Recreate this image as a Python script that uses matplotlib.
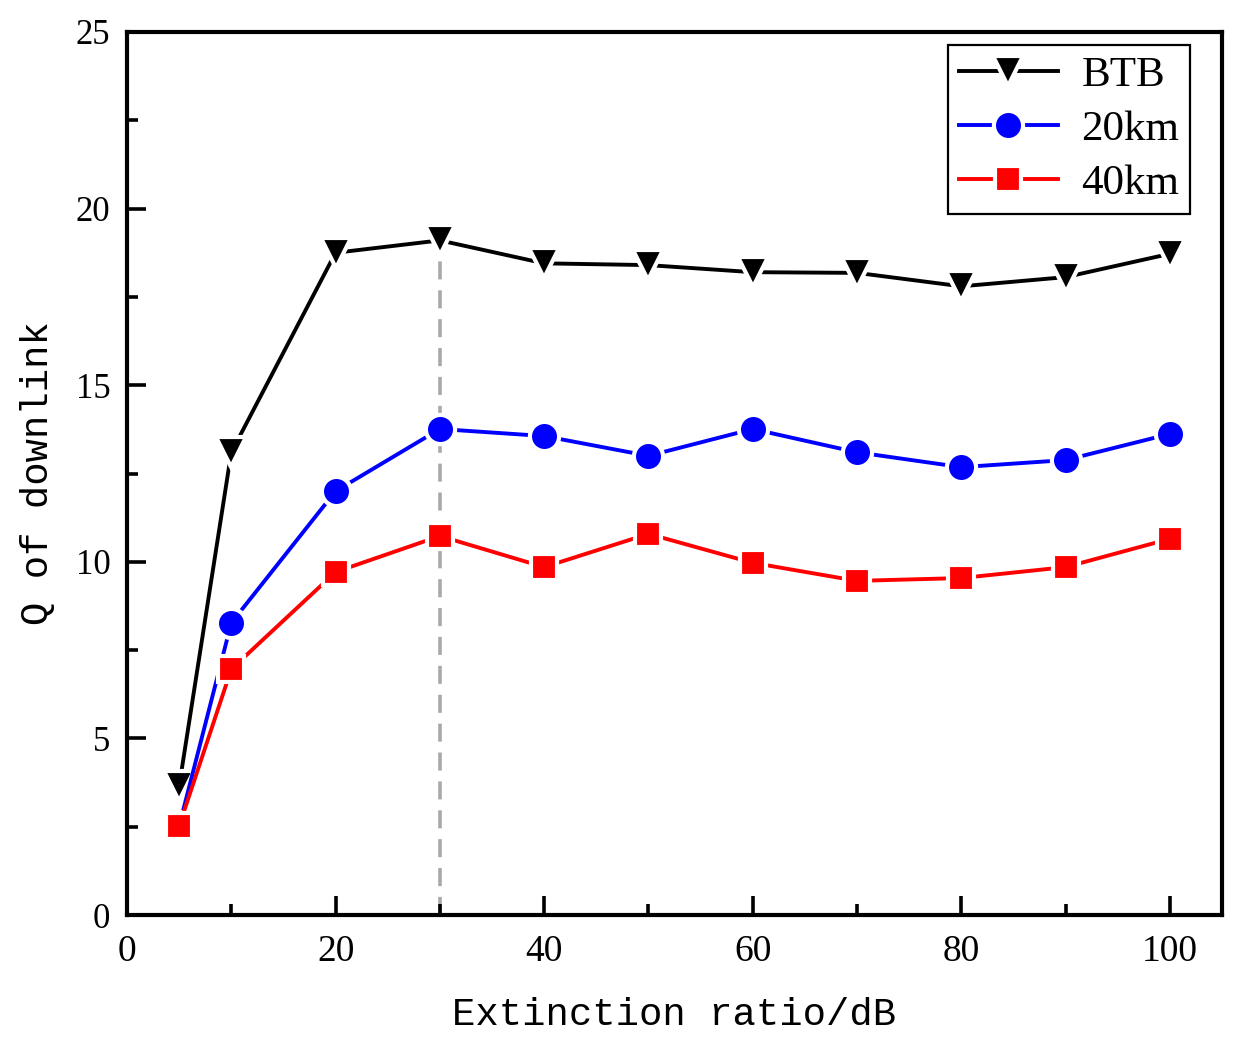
import matplotlib
matplotlib.use("Agg")
import matplotlib.pyplot as plt
from matplotlib.ticker import MultipleLocator

ratio = [5, 10, 20, 30, 40, 50, 60, 70, 80, 90, 100]
q_btb = [3.65, 13.1, 18.75, 19.1, 18.45, 18.4, 18.2, 18.18, 17.8, 18.06, 18.72]
q_20km = [2.52, 8.27, 12.0, 13.76, 13.56, 13.0, 13.76, 13.1, 12.68, 12.88, 13.62]
q_40km = [2.52, 6.96, 9.71, 10.73, 9.85, 10.79, 9.97, 9.46, 9.54, 9.85, 10.65]
best_ratio = 30

matplotlib.rcParams['font.family'] = 'Liberation Serif'

fig = plt.figure(figsize=(12.51, 10.49), dpi=100)
ax = fig.add_axes([127 / 1251, 1 - 915 / 1049, 1095 / 1251, 883 / 1049])

ax.plot([best_ratio, best_ratio], [0, q_btb[ratio.index(best_ratio)]],
        color='#a9a9a9', lw=2.6, ls=(0, (5, 3)), zorder=1)

style = dict(lw=2.8, markeredgecolor='white', markeredgewidth=3)
ax.plot(ratio, q_btb, color='black', marker='v', ms=22, label='BTB', **style)
ax.plot(ratio, q_20km, color='#0000ff', marker='o', ms=21, label='20km', **style)
ax.plot(ratio, q_40km, color='#ff0000', marker='s', ms=19, label='40km', **style)

ax.set_xlim(0, 105)
ax.set_ylim(0, 25)
ax.xaxis.set_major_locator(MultipleLocator(20))
ax.xaxis.set_minor_locator(MultipleLocator(10))
ax.yaxis.set_major_locator(MultipleLocator(5))
ax.yaxis.set_minor_locator(MultipleLocator(2.5))
ax.tick_params(which='both', direction='in', width=2.6, top=False, right=False)
ax.tick_params(which='major', length=14, pad=12)
ax.tick_params(which='minor', length=8)
ax.tick_params(axis='x', labelsize=27, pad=14)
ax.tick_params(axis='y', labelsize=25, pad=12)
for s in ax.spines.values():
    s.set_linewidth(3)

ax.set_xlabel('Extinction ratio/dB', family='Liberation Mono', fontsize=28, labelpad=20)
ax.set_ylabel('Q of downlink', family='Liberation Mono', fontsize=28, labelpad=14)

leg = ax.legend(loc='upper right', fontsize=31, frameon=True, fancybox=False,
                edgecolor='black', framealpha=1, handlelength=2.3, borderpad=0.25,
                labelspacing=0.35, handletextpad=0.55, borderaxespad=0.3,
                bbox_to_anchor=(1 - 19 / 1095, 1))
leg.get_frame().set_linewidth(1.6)

fig.savefig('out.png', dpi=100)
